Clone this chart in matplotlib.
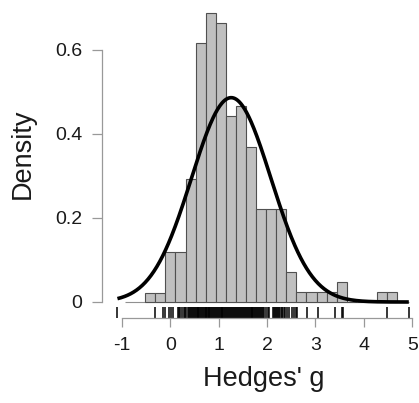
import matplotlib
matplotlib.use('Agg')
import matplotlib.pyplot as plt
import numpy as np

plt.rcParams['font.family'] = ['Liberation Sans', 'DejaVu Sans']

# histogram: 25 equal bins (density scale)
bin_left = -0.517
bin_width = 0.2083
densities = [0.022, 0.022, 0.120, 0.120, 0.294, 0.616, 0.689, 0.665, 0.443,
             0.467, 0.368, 0.221, 0.221, 0.221, 0.072, 0.023, 0.023, 0.023,
             0.023, 0.048, 0.0, 0.0, 0.0, 0.023, 0.023]

# fitted normal curve
curve_mean = 1.26
curve_sd = 0.82
curve_range = (-1.09, 4.93)

# individual effect sizes (rug)
rug_values = [-1.09, -0.31, -0.155, -0.107, -0.02, 0.017, 0.064,
              0.16, 0.19, 0.21, 0.24, 0.28, 0.30, 0.33, 0.36, 0.38, 0.41, 0.43,
              0.45, 0.47, 0.49, 0.51, 0.53, 0.55, 0.57, 0.58, 0.60, 0.62, 0.64,
              0.66, 0.67, 0.69, 0.71, 0.73, 0.74, 0.76, 0.78, 0.80, 0.81, 0.83,
              0.85, 0.87, 0.88, 0.90, 0.92, 0.94, 0.96, 0.98, 1.00, 1.02, 1.04,
              1.06, 1.08, 1.10, 1.12, 1.14, 1.16, 1.18, 1.20, 1.22, 1.24, 1.26,
              1.28, 1.30, 1.32, 1.34, 1.36, 1.38, 1.40, 1.42, 1.44, 1.46, 1.48,
              1.50, 1.52, 1.54, 1.56, 1.58, 1.60, 1.62, 1.64, 1.66, 1.68, 1.70,
              1.72, 1.74, 1.76, 1.78, 1.80, 1.82, 1.84, 1.86, 1.88, 1.90, 1.92,
              1.94, 1.97, 2.03, 2.05, 2.12, 2.14, 2.16, 2.18, 2.20, 2.22, 2.25,
              2.27, 2.30, 2.32, 2.35, 2.38, 2.41,
              2.46, 2.51, 2.56, 2.59, 2.63, 2.82, 3.06, 3.40, 3.54, 3.58, 4.47, 4.93]

x_ticks = [-1, 0, 1, 2, 3, 4, 5]
y_ticks = [0, 0.2, 0.4, 0.6]
y_tick_labels = ['0', '0.2', '0.4', '0.6']

W, H = 419, 403
fig = plt.figure(figsize=(W / 100, H / 100), dpi=100)
# plot region in pixels: x 110..415, y 5..318 (from top)
ax = fig.add_axes([110 / W, (H - 318) / H, 305 / W, 313 / H])
ax.set_xlim(-1.2438, 5.0579)
ax.set_ylim(-0.0381, 0.7071)

edges = bin_left + bin_width * np.arange(len(densities) + 1)
ax.bar(edges[:-1], densities, width=bin_width, align='edge',
       color='#c0c0c0', edgecolor='#505050', linewidth=0.8, zorder=2)
ax.hlines(0, -0.93, 4.93, color='#909090', linewidth=0.8, zorder=1)

xs = np.linspace(curve_range[0], curve_range[1], 400)
ys = np.exp(-0.5 * ((xs - curve_mean) / curve_sd) ** 2) / (curve_sd * np.sqrt(2 * np.pi))
ax.plot(xs, ys, color='black', linewidth=2.6, zorder=3, solid_capstyle='butt')

ax.vlines(rug_values, -0.0381, -0.0119, color='black', linewidth=1.1, zorder=2)

for s in ['top', 'right']:
    ax.spines[s].set_visible(False)
ax.spines['left'].set_position(('outward', 5.8))
ax.spines['left'].set_bounds(0, 0.6)
ax.spines['bottom'].set_bounds(-1, 5)
for s in ['left', 'bottom']:
    ax.spines[s].set_color('#999999')
    ax.spines[s].set_linewidth(0.9)

ax.set_xticks(x_ticks)
ax.set_xticklabels([str(v) for v in x_ticks])
ax.set_yticks(y_ticks)
ax.set_yticklabels(y_tick_labels)
ax.tick_params(axis='x', direction='out', length=6.5, width=0.9, color='#999999',
               pad=7, labelsize=14, labelcolor='#1a1a1a')
ax.tick_params(axis='y', direction='out', length=7.2, width=0.9, color='#999999',
               pad=7, labelsize=14, labelcolor='#1a1a1a')

fig.text(23 / W, 1 - 154 / H, 'Density', rotation=90, ha='center', va='center',
         fontsize=19.5, color='#1a1a1a')
fig.text(264 / W, 1 - 379 / H, "Hedges' g", ha='center', va='center',
         fontsize=19.5, color='#1a1a1a')

fig.savefig('out.png', dpi=100)
